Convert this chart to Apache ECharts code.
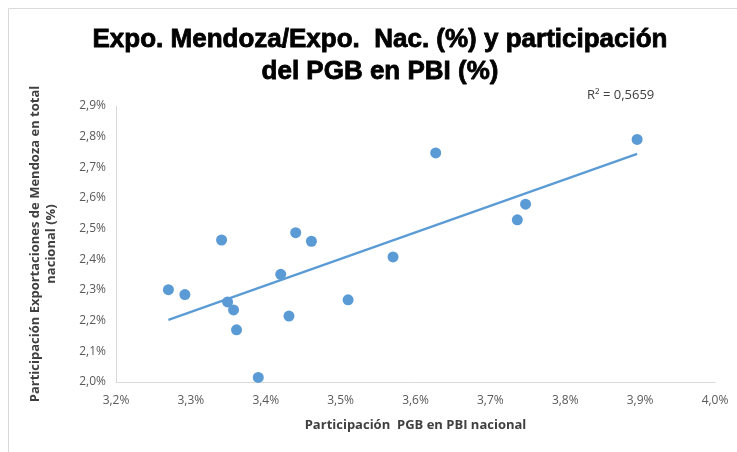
<!DOCTYPE html>
<html>
<head>
<meta charset="utf-8">
<script src="https://cdn.jsdelivr.net/npm/echarts@6/dist/echarts.min.js"></script>
<style>
  html, body { margin: 0; padding: 0; background: #fff; }
  #chart { width: 737px; height: 452px; }
</style>
</head>
<body>
<div id="chart"></div>
<script>
// Participación PGB en PBI nacional (%)
const pgbShare = [3.270, 3.292, 3.341, 3.349, 3.357, 3.361, 3.390, 3.420, 3.431, 3.440, 3.461, 3.510, 3.570, 3.627, 3.747, 3.736, 3.896];
// Participación exportaciones de Mendoza en total nacional (%)
const expoShare = [2.301, 2.285, 2.463, 2.261, 2.235, 2.170, 2.015, 2.351, 2.215, 2.487, 2.459, 2.268, 2.408, 2.747, 2.580, 2.529, 2.791];
const r2Label = 'R² = 0,5659';

const points = pgbShare.map((x, i) => [x, expoShare[i]]);

// linear trend (least squares) from the data
const n = points.length;
const mx = pgbShare.reduce((a, b) => a + b, 0) / n;
const my = expoShare.reduce((a, b) => a + b, 0) / n;
let sxy = 0, sxx = 0;
points.forEach(([x, y]) => { sxy += (x - mx) * (y - my); sxx += (x - mx) * (x - mx); });
const slope = sxy / sxx;
const icpt = my - slope * mx;
const xMin = Math.min(...pgbShare), xMax = Math.max(...pgbShare);
const trend = [[xMin, icpt + slope * xMin], [xMax, icpt + slope * xMax]];

const fmt = v => v.toFixed(1).replace('.', ',') + '%';
const blue = '#5b9bd5';

const chart = echarts.init(document.getElementById('chart'));
chart.setOption({
  animation: false,
  title: {
    text: 'Expo. Mendoza/Expo.  Nac. (%) y participación\ndel PGB en PBI (%)',
    left: 375, top: 19, textAlign: 'center',
    textStyle: {
      fontFamily: 'Liberation Sans', fontWeight: 'bold', fontSize: 26, lineHeight: 32, color: '#000',
      textBorderColor: '#000', textBorderWidth: 0.8
    }
  },
  graphic: [
    { type: 'line', shape: { x1: 8.5, y1: 8.5, x2: 737, y2: 8.5 }, style: { stroke: '#d9d9d9', lineWidth: 1 } },
    { type: 'line', shape: { x1: 8.5, y1: 8.5, x2: 8.5, y2: 452 }, style: { stroke: '#d9d9d9', lineWidth: 1 } },
    { type: 'text', left: 587, top: 89, style: { text: r2Label, font: '13px "Open Sans"', fill: '#404040' } }
  ],
  grid: { left: 116, right: 22, top: 106, bottom: 70 },
  xAxis: {
    type: 'value', min: 3.2, max: 4.0, interval: 0.1,
    name: 'Participación  PGB en PBI nacional', nameLocation: 'middle', nameGap: 37,
    nameTextStyle: { fontFamily: 'Open Sans', fontWeight: 'bold', fontSize: 13, color: '#404040' },
    axisLine: { lineStyle: { color: '#d9d9d9' } },
    axisTick: { show: false },
    splitLine: { show: false },
    axisLabel: { formatter: fmt, color: '#595959', fontFamily: 'Open Sans', fontSize: 12, margin: 13 }
  },
  yAxis: {
    type: 'value', min: 2.0, max: 2.9, interval: 0.1,
    name: 'Participación Exportaciones de Mendoza en total\nnacional (%)', nameLocation: 'middle', nameGap: 57,
    nameTextStyle: { fontFamily: 'Open Sans', fontWeight: 'bold', fontSize: 13, lineHeight: 16, color: '#404040' },
    axisLine: { show: true, lineStyle: { color: '#d9d9d9' } },
    axisTick: { show: false },
    splitLine: { show: false },
    axisLabel: { formatter: fmt, color: '#595959', fontFamily: 'Open Sans', fontSize: 12, margin: 10 }
  },
  series: [
    {
      type: 'scatter', data: points, symbolSize: 11,
      itemStyle: { color: blue, opacity: 1 }
    },
    {
      type: 'line', data: trend, symbol: 'none',
      lineStyle: { color: blue, width: 2.25 }
    }
  ]
});
</script>
</body>
</html>
